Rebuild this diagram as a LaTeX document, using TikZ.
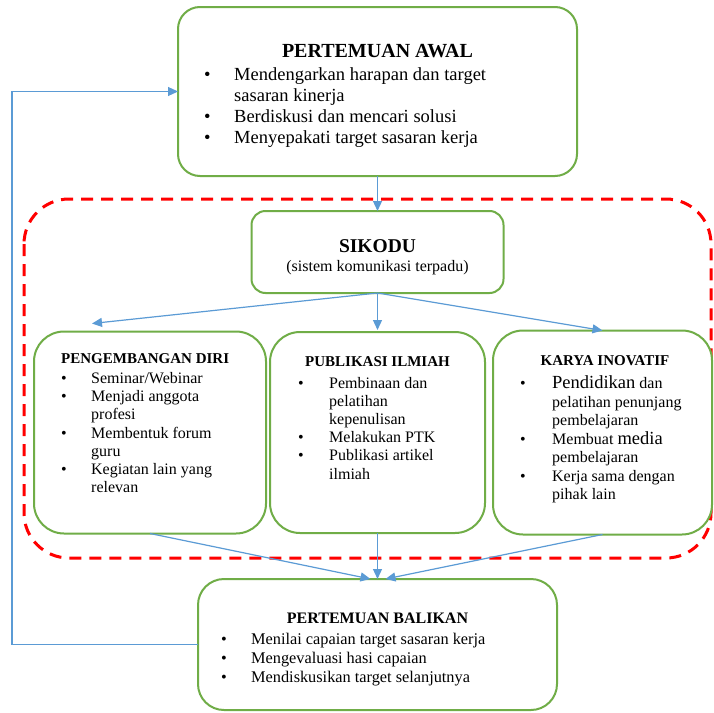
\documentclass[tikz,border=0pt]{standalone}
\usepackage{fontspec}
\setmainfont{Liberation Serif}
\usetikzlibrary{positioning,arrows.meta}

\definecolor{boxgreen}{HTML}{70AD47}
\definecolor{flowblue}{HTML}{5B9BD5}
\definecolor{dashred}{HTML}{FF0000}
\newcommand{\bul}{\textbullet}
\newcommand{\bullist}[2]{\begin{tabular}[t]{@{}p{#1}@{}l@{}}#2\end{tabular}}

\begin{document}
\begin{tikzpicture}[x=1pt, y=-1pt, node distance = 1em,
    box/.style={draw=boxgreen, line width=2pt, rectangle, outer sep=0pt, rounded corners=#1, fill=white},
    box/.default=24pt,
    title/.style={inner sep=0pt, anchor=base, font=\bfseries\fontsize{15}{18}\selectfont},
    list/.style={inner sep=0pt, anchor=base west, font=\fontsize{16}{18.2}\selectfont},
    flow/.style={draw=flowblue, line width=1.2pt, -{Triangle[length=10pt,width=9pt]}}
    ]
    \path[use as bounding box, fill=white] (0,0) rectangle (714,712);

    % red dashed frame round the SIKODU part
    \draw[dashred, line width=3pt, dash pattern=on 12pt off 8pt, rounded corners=45pt] (24,199) rectangle (711,558);

    \node[box=22pt, minimum width=399pt, minimum height=169pt] (awal) at (377.5,91.5) {};
    \node[box=14pt, minimum width=252pt, minimum height=82pt, below=35pt of awal] (sikodu) {};
    \node[box=30pt, minimum width=215pt, minimum height=201pt, below=39pt of sikodu] (pub) {};
    \node[box=30pt, minimum width=232pt, minimum height=202pt, left=4pt of pub] (pd) {};
    \node[box=30pt, minimum width=219pt, minimum height=204pt, right=8pt of pub] (karya) {};
    \node[box=26pt, minimum width=359pt, minimum height=131pt, below=46pt of pub] (balikan) {};

    \node[title, font=\bfseries\fontsize{20}{24}\selectfont] (awal_title) at ([yshift=-50pt]awal.north) {PERTEMUAN AWAL};
    \node[list, font=\fontsize{18.5}{21}\selectfont] (awal_list) at ([xshift=26pt, yshift=-73pt]awal.north west) {\bullist{30pt}{%
      \bul & Mendengarkan harapan dan target\\
           & sasaran kinerja\\
      \bul & Berdiskusi dan mencari solusi\\
      \bul & Menyepakati target sasaran kerja}};

    \node[title, font=\bfseries\fontsize{19.5}{22}\selectfont] (sikodu_title) at ([yshift=-41pt]sikodu.north) {SIKODU};
    \node[title, font=\fontsize{16}{19}\selectfont] (sikodu_sub) at ([yshift=-60pt]sikodu.north) {(sistem komunikasi terpadu)};

    \node[title, anchor=base west] (pd_title) at ([xshift=27pt, yshift=-32pt]pd.north west) {PENGEMBANGAN DIRI};
    \node[list] (pd_list) at ([xshift=27pt, yshift=-52pt]pd.north west) {\bullist{30pt}{%
      \bul & Seminar/Webinar\\
      \bul & Menjadi anggota\\
           & profesi\\
      \bul & Membentuk forum\\
           & guru\\
      \bul & Kegiatan lain yang\\
           & relevan}};

    \node[title] (pub_title) at ([yshift=-34pt]pub.north) {PUBLIKASI ILMIAH};
    \node[list] (pub_list) at ([xshift=28pt, yshift=-56pt]pub.north west) {\bullist{31pt}{%
      \bul & Pembinaan dan\\
           & pelatihan\\
           & kepenulisan\\
      \bul & Melakukan PTK\\
      \bul & Publikasi artikel\\
           & ilmiah}};

    \node[title] (karya_title) at ([xshift=2.5pt, yshift=-35pt]karya.north) {KARYA INOVATIF};
    \node[list, font=\fontsize{16}{18.5}\selectfont] (karya_list) at ([xshift=27pt, yshift=-58pt]karya.north west) {\bullist{32pt}{%
      \bul & {\fontsize{18.5}{18.5}\selectfont Pendidikan} dan\\
           & pelatihan penunjang\\
           & pembelajaran\\
      \bul & Membuat {\fontsize{18.5}{18.5}\selectfont media}\\
           & pembelajaran\\
      \bul & Kerja sama dengan\\
           & pihak lain}};

    \node[title, font=\bfseries\fontsize{16}{19}\selectfont] (balikan_title) at ([yshift=-44pt]balikan.north) {PERTEMUAN BALIKAN};
    \node[list, font=\fontsize{16.3}{19}\selectfont] (balikan_list) at ([xshift=23pt, yshift=-65pt]balikan.north west) {\bullist{30pt}{%
      \bul & Menilai capaian target sasaran kerja\\
      \bul & Mengevaluasi hasi capaian\\
      \bul & Mendiskusikan target selanjutnya}};

    \draw[flow] (awal.south) to (awal.south |- sikodu.north);
    \draw[flow] (sikodu.south) to ([xshift=-58pt, yshift=8pt]pd.north);
    \draw[flow] (sikodu.south) to ([yshift=2pt]pub.north);
    \draw[flow] (sikodu.south) to (karya.north);

    \draw[flow] (pd.south) to ([xshift=-7pt]balikan.north);
    \draw[flow] (pub.south) to (balikan.north);
    \draw[flow] (karya.south) to ([xshift=8pt]balikan.north);

    \coordinate (back) at (12,91.5);
    \draw[flow] (balikan.west) -| (back) to (awal.west);
  \end{tikzpicture}
\end{document}
